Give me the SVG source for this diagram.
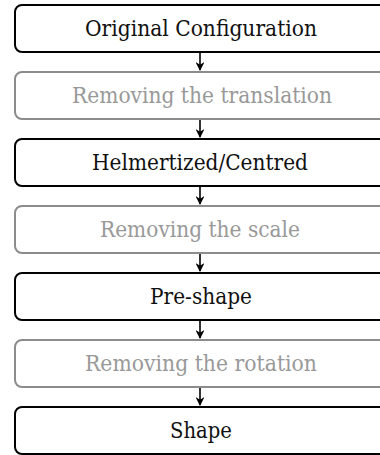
<svg xmlns="http://www.w3.org/2000/svg" width="380" height="455" viewBox="0 0 380 455">
<defs>
<marker id="ah" viewBox="0 0 10 10" refX="9" refY="5" markerWidth="5.5" markerHeight="5.5" orient="auto" markerUnits="strokeWidth">
<path d="M0,0 L10,5 L0,10 L3,5 Z" fill="#000"/>
</marker>
<style>
.box{fill:#fff;stroke:#000;stroke-width:2}
.gbox{fill:#fff;stroke:#8c8c8c;stroke-width:2}
text{font-family:'DejaVu Serif','Liberation Serif',serif;font-size:23px;text-anchor:middle}
.t{fill:#111}
.gt{fill:#999}
.c{stroke:#000;stroke-width:1.6;fill:none;marker-end:url(#ah)}
</style>
</defs>
<rect width="380" height="455" fill="#fff"/>
<g id="connectors">
<line class="c" x1="200" y1="52" x2="200" y2="70"/>
<line class="c" x1="200" y1="119" x2="200" y2="137"/>
<line class="c" x1="200" y1="186" x2="200" y2="204"/>
<line class="c" x1="200" y1="253" x2="200" y2="271"/>
<line class="c" x1="200" y1="320" x2="200" y2="338"/>
<line class="c" x1="200" y1="387" x2="200" y2="405"/>
</g>
<g id="n1"><rect class="box" x="15" y="5" width="390" height="47" rx="7"/><text class="t" x="201" y="36" textLength="232" lengthAdjust="spacingAndGlyphs">Original Configuration</text></g>
<g id="n2"><rect class="gbox" x="15" y="72" width="390" height="47" rx="7"/><text class="gt" x="202" y="103" textLength="260" lengthAdjust="spacingAndGlyphs">Removing the translation</text></g>
<g id="n3"><rect class="box" x="15" y="139" width="390" height="47" rx="7"/><text class="t" x="200" y="170" textLength="216" lengthAdjust="spacingAndGlyphs">Helmertized/Centred</text></g>
<g id="n4"><rect class="gbox" x="15" y="206" width="390" height="47" rx="7"/><text class="gt" x="200" y="237" textLength="200" lengthAdjust="spacingAndGlyphs">Removing the scale</text></g>
<g id="n5"><rect class="box" x="15" y="273" width="390" height="47" rx="7"/><text class="t" x="201" y="304" textLength="102" lengthAdjust="spacingAndGlyphs">Pre-shape</text></g>
<g id="n6"><rect class="gbox" x="15" y="340" width="390" height="47" rx="7"/><text class="gt" x="201" y="371" textLength="232" lengthAdjust="spacingAndGlyphs">Removing the rotation</text></g>
<g id="n7"><rect class="box" x="15" y="407" width="390" height="47" rx="7"/><text class="t" x="201" y="438" textLength="62" lengthAdjust="spacingAndGlyphs">Shape</text></g>
</svg>
